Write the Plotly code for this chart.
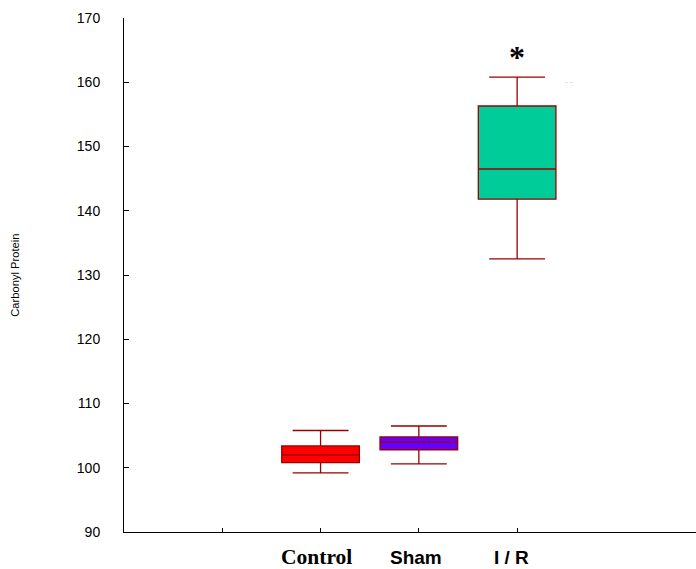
import plotly.graph_objects as go

categories = ["Control", "Sham", "I / R"]
lower_whisker = [99.2, 100.6, 132.5]
q1_values = [100.8, 102.8, 141.8]
medians = [102.0, 104.0, 146.5]
q3_values = [103.4, 104.8, 156.3]
upper_whisker = [105.8, 106.5, 160.8]
fill_colors = ["#FF0000", "#6600FF", "#00CC99"]
y_ticks = [90, 100, 110, 120, 130, 140, 150, 160, 170]
x_tick_positions = [-1, 0, 1, 2]

fig = go.Figure()
for i, cat in enumerate(categories):
    fig.add_trace(go.Box(
        x=[cat],
        q1=[q1_values[i]], median=[medians[i]], q3=[q3_values[i]],
        lowerfence=[lower_whisker[i]], upperfence=[upper_whisker[i]],
        fillcolor=fill_colors[i],
        line=dict(color="#990000", width=1.3),
        width=0.79,
        whiskerwidth=0.72,
        boxpoints=False,
        hoverinfo="skip",
        showlegend=False,
    ))

label_fonts = [
    dict(family="Liberation Serif", size=21.5, color="black"),
    dict(family="Liberation Sans", size=19, color="black"),
    dict(family="Liberation Sans", size=19, color="black"),
]
label_shift = [-4, -3, -6]
for i, cat in enumerate(categories):
    fig.add_annotation(x=cat, xref="x", y=0, yref="paper", yshift=-25,
                       text="<b>" + cat + "</b>", showarrow=False,
                       font=label_fonts[i], xshift=label_shift[i], yanchor="middle")

fig.add_annotation(x=categories[2], xref="x", y=upper_whisker[2], yref="y",
                   text="<b>*</b>", showarrow=False, yshift=20,
                   font=dict(family="Liberation Serif", size=32, color="black"))
fig.add_annotation(x=categories[2], xref="x", y=upper_whisker[2] - 0.7, yref="y",
                   text="- -", showarrow=False, xshift=52,
                   font=dict(family="Liberation Sans", size=8, color="#BBBBBB"))

fig.add_annotation(x=18 / 696 - 124 / 572, xref="paper", y=0.5, yref="paper",
                   text="Carbonyl Protein", textangle=-90, showarrow=False,
                   xanchor="center", yanchor="middle",
                   font=dict(family="Liberation Sans", size=11.2, color="black"))

fig.update_layout(
    width=696, height=569,
    margin=dict(l=124, r=0, t=18, b=37),
    plot_bgcolor="white", paper_bgcolor="white",
    xaxis=dict(type="category", categoryorder="array", categoryarray=categories,
               range=[-2, 3.82], showgrid=False, zeroline=False,
               showline=True, linecolor="black", linewidth=1,
               tickmode="array", tickvals=x_tick_positions, ticktext=["", "", "", ""],
               ticks="inside", ticklen=4, tickcolor="black"),
    yaxis=dict(range=[90, 170], tickvals=y_ticks, showgrid=False, zeroline=False,
               showline=True, linecolor="black", linewidth=1,
               ticks="inside", ticklen=5, tickcolor="black",
               ticklabelstandoff=20,
               tickfont=dict(family="Liberation Sans", size=14, color="black")),
)

fig.write_html(
    "out.html",
    config={"displayModeBar": False},
    post_script="document.body.style.margin='0';document.body.style.overflow='hidden';",
)
